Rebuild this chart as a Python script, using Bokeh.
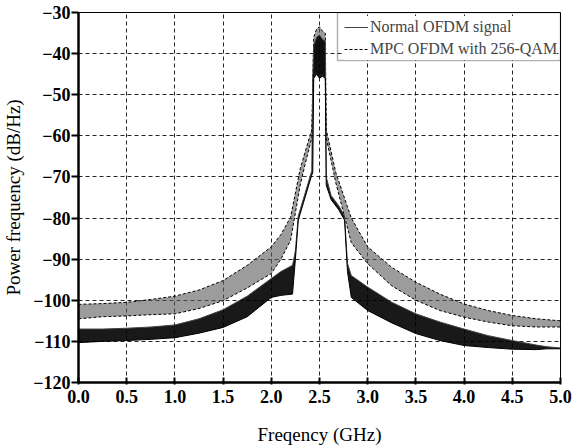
from bokeh.plotting import figure
from bokeh.models import Range1d, FixedTicker, PrintfTickFormatter, Legend, LegendItem, BoxAnnotation
from bokeh.embed import file_html
from bokeh.resources import INLINE

# Normal OFDM signal: hand-read envelope of the noisy spectrum (GHz, dB/Hz)
normal_freq = [0.0, 0.25, 0.5, 0.75, 1.0, 1.25, 1.5, 1.75, 2.0, 2.1, 2.22, 2.25, 2.28, 2.35, 2.42,
               2.43, 2.44, 2.47, 2.5, 2.53, 2.56, 2.57, 2.62, 2.7, 2.76, 2.79, 2.83, 3.0, 3.25,
               3.5, 3.75, 4.0, 4.25, 4.5, 4.75, 4.86, 5.0]
normal_low = [-110.3, -110.0, -109.8, -109.5, -109.1, -108.0, -106.6, -104.0, -99.3, -98.8, -98.5,
              -90.0, -80.5, -75.0, -69.5, -69.0, -46.0, -45.0, -46.0, -45.5, -46.0, -72.0, -75.5,
              -78.0, -80.5, -93.0, -99.3, -102.5, -105.5, -108.1, -109.8, -111.0, -111.5, -111.9,
              -112.0, -111.8, -111.8]
normal_high = [-107.0, -107.0, -106.8, -106.5, -106.0, -104.5, -102.3, -99.0, -94.7, -93.0, -91.5,
               -88.0, -79.5, -74.0, -68.5, -46.0, -38.0, -36.0, -35.5, -36.5, -37.0, -70.0, -74.5,
               -77.0, -79.5, -91.0, -94.0, -96.8, -100.5, -103.3, -105.3, -107.0, -108.6, -109.8,
               -110.9, -111.3, -111.6]

# MPC OFDM with 256-QAM: hand-read envelope
mpc_freq = [0.0, 0.25, 0.5, 0.75, 1.0, 1.25, 1.5, 1.75, 2.0, 2.1, 2.2, 2.3, 2.35, 2.42, 2.44,
            2.47, 2.5, 2.53, 2.56, 2.57, 2.67, 2.83, 3.0, 3.25, 3.5, 3.75, 4.0, 4.25, 4.5,
            4.75, 5.0]
mpc_low = [-104.5, -104.0, -103.8, -103.5, -103.3, -102.0, -100.1, -97.0, -93.5, -90.0, -85.4,
           -72.0, -67.0, -60.5, -45.0, -44.0, -45.0, -44.5, -45.0, -60.5, -71.5, -86.0, -91.1,
           -96.5, -100.0, -102.5, -104.1, -105.3, -106.2, -106.5, -106.5]
mpc_high = [-101.0, -100.8, -100.5, -99.8, -99.0, -97.5, -95.2, -91.5, -87.0, -84.0, -79.8,
            -68.0, -64.0, -58.5, -36.0, -34.0, -33.5, -34.5, -35.0, -58.5, -69.0, -80.0, -87.0,
            -92.0, -95.6, -98.5, -100.9, -102.5, -103.7, -104.5, -105.0]

x_ticks = [0.0, 0.5, 1.0, 1.5, 2.0, 2.5, 3.0, 3.5, 4.0, 4.5, 5.0]
y_ticks = [-120, -110, -100, -90, -80, -70, -60, -50, -40, -30]

FONT = "Liberation Serif"

p = figure(width=587, height=448, output_backend="svg", toolbar_location=None,
           x_range=Range1d(0, 5), y_range=Range1d(-120, -30),
           min_border_left=76, min_border_right=27, min_border_top=12, min_border_bottom=66)
p.background_fill_color = "white"
p.border_fill_color = "white"
p.outline_line_color = "black"
p.outline_line_width = 1

# MPC band
p.varea(x=mpc_freq, y1=mpc_low, y2=mpc_high, fill_color="#5a5a5a", fill_alpha=0.6)
mpc_line = p.line(mpc_freq, mpc_high, line_color="black", line_width=1, line_dash="3 2")
p.line(mpc_freq, mpc_low, line_color="black", line_width=1, line_dash="3 2")

# Normal band
p.varea(x=normal_freq, y1=normal_low, y2=normal_high, fill_color="black", fill_alpha=0.9)
normal_line = p.line(normal_freq, normal_high, line_color="#444444", line_width=1)
p.line(normal_freq, normal_low, line_color="black", line_width=1)

# grid
for g in (p.xgrid, p.ygrid):
    g.grid_line_color = "black"
    g.grid_line_dash = "4 3"
    g.grid_line_width = 1
    g.grid_line_alpha = 0.85
p.xgrid.ticker = FixedTicker(ticks=x_ticks)
p.ygrid.ticker = FixedTicker(ticks=y_ticks)

p.xaxis.ticker = FixedTicker(ticks=x_ticks)
p.yaxis.ticker = FixedTicker(ticks=y_ticks)
p.xaxis.formatter = PrintfTickFormatter(format="%.1f")
p.xaxis.minor_tick_line_color = None
p.yaxis.minor_tick_line_color = None
for ax in (p.xaxis, p.yaxis):
    ax.axis_line_width = 2.5
    ax.axis_line_color = "black"
    ax.major_tick_line_width = 2
    ax.major_tick_line_color = "black"
    ax.major_label_text_font = FONT
    ax.major_label_text_font_size = "18px"
    ax.major_label_text_font_style = "bold"
    ax.major_label_text_color = "black"
    ax.axis_label_text_font = FONT
    ax.axis_label_text_font_size = "19px"
    ax.axis_label_text_font_style = "normal"
    ax.axis_label_text_color = "black"
p.yaxis.major_tick_out = 7
p.yaxis.major_tick_in = 0
p.xaxis.major_tick_out = 2
p.xaxis.major_tick_in = 5
p.xaxis.major_label_standoff = 5
p.yaxis.major_label_standoff = 1
p.xaxis.axis_label = "Freqency (GHz)"
p.yaxis.axis_label = "Power frequency (dB/Hz)"
p.xaxis.axis_label_standoff = 18
p.yaxis.axis_label_standoff = 6

legend = Legend(items=[LegendItem(label="Normal OFDM signal", renderers=[normal_line]),
                       LegendItem(label="MPC OFDM with 256-QAM", renderers=[mpc_line])],
                location=(266, 322), margin=0, padding=2, spacing=0,
                glyph_width=24, glyph_height=22, label_standoff=2,
                label_text_font=FONT, label_text_font_size="16px", label_height=22,
                border_line_color=None,
                background_fill_color="white", background_fill_alpha=1)
p.add_layout(legend)
legend_box = BoxAnnotation(left=337, right=560, top=12, bottom=60,
                           left_units="canvas", right_units="canvas",
                           top_units="canvas", bottom_units="canvas",
                           fill_color=None, line_color="black", line_width=1.5)
p.add_layout(legend_box)

open("out.html", "w").write(file_html(p, INLINE))
